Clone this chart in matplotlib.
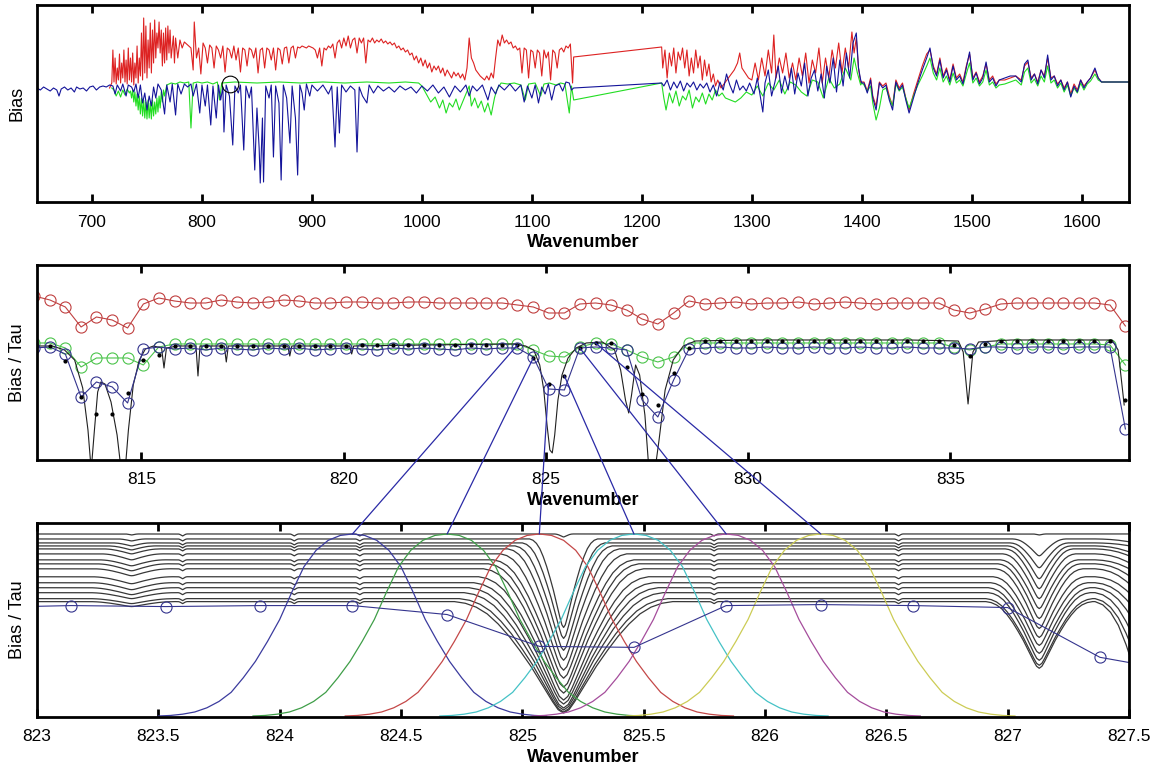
import numpy as np
import matplotlib.pyplot as plt
from matplotlib.patches import ConnectionPatch
from matplotlib.ticker import FormatStrFormatter

plt.rcParams['font.family'] = ['Liberation Sans', 'DejaVu Sans']

# ---------------- top panel: bias over the whole band ----------------
# (wavenumber, bias), arbitrary units, 0 = blue baseline
blue_main = [(650, 0), (653, -2), (656, 1), (659, -1), (662, -3), (665, 0), (668, -2), (670, -8), (672, -1),
             (675, 1), (678, -2), (681, 0), (684, -4), (686, 1), (689, -1), (692, 0), (695, -3), (698, 1),
             (701, 2), (704, -2), (707, 1), (710, 2), (713, 1), (716, 3),
             (719, 2), (721, -6), (723, 3), (726, -3), (728, 4), (731, -8), (733, 3), (736, 1), (738, -4),
             (740, 4), (742, -10), (744, 3), (746, -15), (748, -5), (750, -22), (752, -8), (754, -18),
             (756, 1), (758, -10), (760, 4), (763, -2), (766, -26), (768, 3), (771, -14), (773, 4),
             (776, -27), (778, 4), (781, -6), (784, 4), (787, 1), (790, 4), (792, -8), (795, 4), (798, -25),
             (800, 3), (803, -18), (805, 3), (808, -37), (810, 2), (813, -30), (815, 3), (817, -12), (819, 1),
             (820, -44), (822, 3), (825, -8), (828, -57), (830, 2), (833, -5), (835, 3), (838, -62), (840, 2),
             (843, -10), (845, 1), (848, -82), (850, -20), (852, -60), (853, -95), (855, -30), (856, -94),
             (858, 2), (861, -10), (863, 3), (865, -69), (867, 2), (870, -15), (872, -92), (874, 3),
             (877, -10), (880, -55), (882, 2), (885, -30), (887, -87), (889, 3), (891, -5), (893, -22),
             (895, 4), (898, -8), (900, 3), (905, -3), (910, 3), (915, -6), (918, 2), (921, -59), (923, 1),
             (925, -45), (927, 3), (931, -4), (935, 2), (939, -2), (941, -64), (943, 1), (946, -8), (950, -15),
             (952, 3), (956, -5), (960, 2), (965, -3), (970, 1), (975, -4), (980, 2), (985, -2), (990, 1),
             (995, -5), (1000, 2), (1005, -3), (1010, 3), (1015, -5), (1020, 1), (1025, -9), (1030, 2),
             (1035, -4), (1040, 3), (1043, -8), (1046, 2), (1050, -3), (1055, 3), (1060, -12), (1063, 1),
             (1067, -6), (1070, 3), (1075, -2), (1080, 4), (1085, -3), (1090, 3), (1093, -14), (1096, 2),
             (1100, -10), (1103, 3), (1106, -15), (1109, 1), (1112, -6), (1115, 4), (1118, -12), (1121, 2),
             (1125, 4), (1128, -3), (1131, 6), (1134, 5), (1136, -2), (1138, 0),
             (1218, 5), (1220, 2), (1223, 8), (1226, -2), (1229, 6), (1232, 0), (1235, 7), (1238, -3),
             (1241, 5), (1244, 1), (1247, 6), (1250, -2), (1253, 4), (1256, 0), (1259, 5), (1262, -4),
             (1265, 3), (1268, -8), (1271, 6), (1274, -2), (1277, 14), (1280, 3), (1283, -5), (1286, 8),
             (1289, -2), (1292, 2), (1295, -3), (1298, 5), (1302, -6), (1305, 10), (1308, -10), (1310, -24),
             (1312, 5), (1315, 18), (1318, -8), (1321, 6), (1324, 22), (1327, -5), (1330, 12), (1333, -2),
             (1336, 20), (1339, -6), (1342, 15), (1345, 2), (1348, 25), (1351, -8), (1354, 10), (1357, 18),
             (1360, -3), (1363, 14), (1366, -10), (1368, 22), (1371, 5), (1374, 30), (1377, -4), (1380, 28),
             (1383, 2), (1386, 35), (1389, 10), (1392, 45), (1395, 55), (1397, 20), (1399, 8)]

green_main = [(718, 0), (720, -2), (722, -8), (724, -3), (726, -9), (728, -2), (730, -7), (732, -1), (734, -5),
              (735, -3), (736, -10), (737, -2), (738, -14), (739, -4), (740, -18), (741, -6), (742, -22),
              (743, -8), (744, -26), (745, -10), (746, -28), (747, -12), (748, -30), (749, -14), (750, -31),
              (751, -12), (752, -30), (753, -15), (754, -31), (755, -12), (756, -28), (757, -14), (758, -26),
              (759, -10), (760, -24), (761, -8), (762, -20), (763, -4), (764, -14), (765, -2), (766, -8),
              (768, 3), (772, 5), (776, 4), (780, 6), (784, 5), (788, 6), (790, -40), (792, 5), (796, 6),
              (800, 5), (805, 6), (810, 4), (814, 6), (816, -12), (818, 5), (830, 6), (850, 5), (870, 6),
              (890, 5), (910, 6), (930, 5), (950, 6), (970, 5), (985, 6), (997, 5),
              (1000, 2), (1004, -6), (1008, -14), (1012, -9), (1016, -20), (1019, -12), (1022, -25),
              (1025, -15), (1028, -19), (1031, -11), (1034, -22), (1037, -14), (1040, -6), (1043, 2),
              (1045, -18), (1048, -10), (1051, -20), (1054, -13), (1057, -24), (1060, -15), (1063, -27),
              (1066, -10), (1068, -2), (1072, 5), (1078, 4), (1084, 5), (1090, 3), (1094, -12), (1097, 4),
              (1103, 5), (1108, -8), (1111, 4), (1116, 5), (1122, 3), (1126, 5), (1130, 4), (1134, -25),
              (1136, 2), (1138, -12),
              (1218, 5), (1220, -10), (1222, -22), (1225, -5), (1228, -15), (1231, -3), (1234, -18),
              (1237, -8), (1240, -12), (1243, -2), (1246, -20), (1249, -9), (1252, -14), (1255, -5),
              (1258, -16), (1261, -6), (1264, -12), (1267, -2), (1270, -8), (1273, -5), (1276, -10),
              (1285, -14), (1290, -10), (1295, -4), (1300, -7), (1305, 2), (1310, -8), (1315, 5), (1320, -2),
              (1325, 8), (1330, -6), (1335, 6), (1340, 3), (1345, -4), (1350, -8), (1355, 8), (1360, 6),
              (1365, -10), (1370, 10), (1375, 0), (1380, 4), (1385, 20), (1390, 8), (1393, 30), (1396, 15),
              (1399, 3)]

red_main = [(716, 0), (718, 5), (719, 38), (720, 6), (721, 30), (722, 4), (723, 20), (724, 8), (725, 34),
            (726, 5), (727, 25), (728, 10), (729, 38), (730, 6), (731, 28), (732, 4), (733, 40), (734, 8),
            (735, 30), (736, 6), (737, 35), (738, 3), (739, 25), (740, 10), (741, 42), (742, 5), (743, 30),
            (744, 12), (745, 55), (746, 8), (747, 70), (748, 15), (749, 62), (750, 10), (751, 48), (752, 20),
            (753, 65), (754, 15), (755, 58), (756, 25), (757, 68), (758, 30), (759, 55), (760, 40), (761, 66),
            (762, 35), (763, 58), (764, 22), (765, 55), (766, 25), (767, 60), (768, 28), (769, 62), (770, 35),
            (771, 58), (772, 30), (774, 52), (775, 25), (776, 50), (778, 30), (780, 48), (782, 40), (784, 46),
            (786, 44), (788, 42), (790, 40), (792, 18), (793, 66),
            (795, 30), (797, 40), (799, 14), (801, 45), (803, 40), (805, 25), (807, 43), (809, 40), (811, 20),
            (813, 42), (815, 38), (817, 30), (819, 42), (821, 16), (823, 40), (825, 38), (827, 30), (829, 42),
            (831, 28), (833, 40), (835, 16), (837, 40), (839, 38), (841, 22), (843, 40), (845, 38), (847, 30),
            (849, 40), (851, 15), (853, 38), (855, 40), (857, 20), (859, 40), (861, 38), (863, 28), (865, 40),
            (867, 18), (869, 40), (871, 38), (873, 24), (875, 40), (877, 41), (879, 25), (881, 40), (883, 42),
            (885, 30), (887, 41), (889, 40), (891, 42), (893, 41), (895, 40), (897, 42), (899, 41), (901, 40),
            (903, 38), (905, 30), (907, 40), (909, 22), (911, 40), (913, 38), (915, 42), (917, 40), (919, 44),
            (921, 30), (923, 45), (925, 48), (927, 40), (929, 50), (931, 42), (933, 52), (935, 40), (937, 48),
            (939, 50), (941, 35), (943, 50), (945, 45), (947, 50), (949, 25), (951, 48), (953, 46), (955, 50),
            (957, 45), (959, 48), (961, 46), (963, 49), (965, 45), (967, 47), (969, 44), (971, 46), (973, 43),
            (975, 45), (977, 40), (979, 42), (981, 38), (983, 40), (985, 36), (987, 38), (989, 33), (991, 35),
            (993, 28), (995, 32), (997, 25), (999, 30), (1001, 22), (1003, 28), (1005, 20), (1007, 25),
            (1009, 16), (1011, 22), (1013, 18), (1015, 22), (1017, 15), (1019, 20), (1021, 12), (1023, 18),
            (1025, 14), (1027, 10), (1029, 16), (1031, 12), (1033, 15), (1035, 10), (1037, 14), (1039, 8),
            (1041, 20), (1043, 50), (1045, 30), (1047, 25), (1049, 18), (1051, 15), (1053, 12), (1055, 10),
            (1057, 8), (1059, 12), (1061, 8), (1063, 15), (1065, 10), (1067, 30), (1069, 48), (1071, 42),
            (1073, 53), (1075, 45), (1077, 48), (1079, 44), (1081, 46), (1083, 40), (1085, 42), (1087, 38),
            (1089, 40), (1091, 15), (1093, 40), (1095, 38), (1097, 10), (1099, 38), (1101, 36), (1103, 20),
            (1105, 38), (1107, 35), (1109, 12), (1111, 38), (1113, 30), (1115, 36), (1117, 8), (1119, 38),
            (1121, 35), (1123, 20), (1125, 38), (1127, 40), (1129, 36), (1131, 42), (1133, 40), (1135, 44),
            (1137, 5), (1138, 31),
            (1218, 41), (1219, 20), (1221, 38), (1223, 10), (1225, 35), (1227, 22), (1229, 40), (1231, 15),
            (1233, 36), (1235, 28), (1237, 40), (1239, 20), (1241, 38), (1243, 12), (1245, 30), (1247, 15),
            (1249, 38), (1251, 20), (1253, 32), (1255, 8), (1257, 28), (1259, 12), (1261, 24), (1263, 6),
            (1265, 14), (1267, 2), (1269, 8), (1272, 0), (1276, 6), (1280, 12), (1284, 18), (1287, 25),
            (1289, 35), (1291, 20), (1294, 15), (1297, 10), (1300, 8), (1303, 25), (1306, 8), (1309, 30),
            (1312, 12), (1315, 38), (1318, 15), (1320, 53), (1322, 10), (1325, 30), (1328, 15), (1331, 35),
            (1334, 10), (1337, 25), (1340, 8), (1343, 30), (1346, 12), (1349, 35), (1352, 5), (1355, 28),
            (1358, 15), (1361, 40), (1364, 5), (1367, 30), (1370, 10), (1373, 38), (1376, 20), (1379, 45),
            (1382, 15), (1385, 40), (1388, 20), (1391, 56), (1393, 35), (1395, 50), (1397, 20), (1399, 5)]

# 1400-1650: the three runs nearly coincide
tail_x = [1400, 1402, 1405, 1408, 1410, 1413, 1416, 1419, 1422, 1425, 1428, 1431, 1434, 1437, 1440,
          1443, 1447, 1451, 1455, 1459, 1462, 1465, 1468, 1471, 1474, 1477, 1480, 1483, 1486, 1489,
          1492, 1495, 1498, 1501, 1504, 1507, 1510, 1513, 1516, 1519, 1522, 1525, 1530, 1535, 1540,
          1545, 1548, 1551, 1554, 1557, 1560, 1563, 1566, 1569, 1572, 1575, 1578, 1581, 1584, 1587,
          1590, 1593, 1596, 1599, 1602, 1605, 1608, 1612, 1615, 1618, 1650]
tail_blue = [5, 5, -5, 8, -10, -22, 5, 0, 3, -12, -22, 6, -2, 3, -12,
             -25, -10, 5, 18, 30, 40, 20, 12, 28, 10, 18, 6, 22, 8, 12,
             4, 20, 36, 8, 15, 4, 10, 26, 6, 10, 2, 8, 10, 12, 12,
             6, 24, 28, 8, 14, 4, 18, 10, 33, 8, 12, 2, 8, -2, 6,
             -9, 2, -4, 8, 0, 6, 10, 20, 10, 6, 6]
tail_green = [5, 3, -3, 2, -15, -32, -20, -2, 0, -10, -18, 4, -3, 1, -10,
              -20, -8, 3, 12, 22, 30, 15, 8, 20, 6, 12, 3, 15, 5, 8,
              2, 14, 25, 5, 10, 2, 6, 18, 3, 6, 0, 3, 4, 6, 8,
              3, 16, 20, 5, 9, 2, 12, 6, 22, 5, 8, 0, 5, -4, 3,
              -8, 0, -5, 5, -2, 4, 7, 14, 8, 6, 6]
tail_red = [6, 6, -3, 10, -8, -18, 6, 2, 5, -8, -18, 8, 0, 5, -10,
            -22, -6, 8, 22, 34, 38, 22, 14, 30, 12, 20, 8, 24, 10, 14,
            6, 22, 34, 10, 16, 6, 12, 24, 8, 12, 4, 8, 8, 10, 12,
            8, 22, 26, 10, 14, 6, 18, 12, 30, 10, 12, 4, 8, 0, 6,
            -6, 4, -2, 8, 2, 6, 10, 18, 10, 6, 6]

zoom_mark = (825.5, 4)

# ---------------- middle panel: channels 812-839 ----------------
chan_x = [812.35, 812.74, 813.12, 813.51, 813.89, 814.28, 814.66, 815.05, 815.43, 815.82,
          816.21, 816.59, 816.98, 817.36, 817.75, 818.13, 818.52, 818.90, 819.29, 819.67,
          820.06, 820.45, 820.83, 821.22, 821.60, 821.99, 822.37, 822.76, 823.14, 823.53,
          823.92, 824.30, 824.69, 825.07, 825.46, 825.84, 826.23, 826.61, 827.00, 827.38,
          827.77, 828.16, 828.54, 828.93, 829.31, 829.70, 830.08, 830.47, 830.85, 831.24,
          831.63, 832.01, 832.40, 832.78, 833.17, 833.55, 833.94, 834.32, 834.71, 835.09,
          835.48, 835.87, 836.25, 836.64, 837.02, 837.41, 837.79, 838.18, 838.56, 838.95,
          839.33]
red_circ = [164, 160, 153, 133, 143, 140, 132, 156, 162, 159, 157, 157, 160, 158, 157, 158, 160, 159,
            157, 157, 158, 158, 157, 157, 158, 158, 157, 157, 157, 157, 157, 155, 153, 147, 147, 156,
            157, 155, 150, 141, 136, 147, 159, 156, 157, 158, 156, 157, 157, 158, 156, 157, 158, 157,
            156, 157, 157, 157, 157, 150, 147, 151, 156, 157, 157, 157, 157, 157, 157, 155, 134]
green_circ = [117, 117, 112, 93, 102, 102, 102, 95, 113, 116, 116, 116, 116, 116, 116, 116, 116, 116,
              116, 116, 116, 116, 116, 116, 116, 116, 116, 116, 116, 116, 116, 116, 110, 104, 103, 113,
              117, 116, 110, 103, 98, 103, 117, 117, 117, 117, 117, 117, 117, 117, 117, 117, 117, 117,
              117, 117, 117, 117, 117, 113, 110, 113, 116, 116, 116, 116, 116, 116, 116, 115, 95]
blue_circ = [112, 113, 106, 63, 78, 73, 57, 111, 113, 111, 112, 110, 112, 111, 110, 112, 111, 112,
             110, 111, 112, 111, 110, 112, 111, 112, 111, 110, 112, 111, 112, 112, 103, 71, 70, 112,
             113, 112, 110, 60, 43, 80, 111, 112, 113, 112, 112, 113, 112, 112, 113, 112, 112, 113,
             112, 112, 113, 112, 112, 112, 111, 113, 113, 112, 113, 113, 112, 113, 113, 113, 31]
conv_dots = [114, 114, 99, 63, 46, 46, 67, 100, 105, 114, 114, 114, 114, 114, 114, 114, 114, 114,
             114, 114, 114, 115, 115, 115, 115, 115, 115, 115, 115, 115, 115, 115, 102, 76, 84, 112,
             117, 117, 93, 66, 55, 87, 112, 119, 119, 119, 119, 119, 119, 119, 119, 119, 119, 119,
             119, 119, 119, 119, 119, 115, 104, 116, 119, 119, 119, 119, 119, 119, 119, 119, 60]
# high resolution spectrum
hires = [(812.40, 114), (812.80, 114), (813.10, 110), (813.35, 100), (813.55, 72), (813.68, 30),
         (813.76, -10), (813.84, 30), (813.92, 68), (814.00, 78), (814.10, 76), (814.25, 58),
         (814.40, 25), (814.50, -10), (814.60, -10), (814.68, 30), (814.80, 75), (814.95, 100),
         (815.10, 111), (815.30, 114), (815.50, 112), (815.56, 92), (815.62, 112), (815.90, 114),
         (816.35, 114), (816.40, 84), (816.45, 114), (817.05, 114), (817.10, 98), (817.15, 114),
         (818.62, 114), (818.67, 104), (818.72, 114), (820.15, 114), (820.20, 106), (820.25, 114),
         (822.00, 115), (824.20, 116), (824.50, 114), (824.70, 110), (824.85, 95), (824.95, 70),
         (825.03, 35), (825.10, 10), (825.16, 7), (825.22, 25), (825.30, 60), (825.40, 85),
         (825.55, 102), (825.75, 112), (826.00, 117), (826.40, 118), (826.70, 110), (826.85, 90),
         (826.97, 60), (827.05, 47), (827.12, 65), (827.22, 95), (827.32, 85), (827.45, 45),
         (827.55, -10), (827.70, -10), (827.80, 20), (827.95, 70), (828.15, 100), (828.40, 114),
         (828.70, 119), (830.00, 120), (832.00, 120), (834.00, 120), (835.20, 119), (835.32, 108),
         (835.44, 56), (835.56, 108), (835.70, 118), (836.50, 120), (839.00, 120), (839.15, 110),
         (839.30, 55)]

# ---------------- bottom panel: transmittances and channel responses ----------------
tau_level = [184, 179, 175, 172, 169, 164, 158, 154, 149, 141, 135, 130, 125, 119, 116]
# line at 823.39
l0_depth = [1, 2, 3, 4, 5, 6, 6, 7, 7, 7, 7, 7, 6, 5, 5]
l0_w = [0.03, 0.06, 0.08, 0.10, 0.12, 0.13, 0.14, 0.15, 0.16, 0.17, 0.17, 0.18, 0.18, 0.18, 0.18]
# strong line at 825.17 (bottom of each curve)
l1_min = [181, 90, 79, 67, 57, 47, 39, 30, 24, 17, 13, 9, 7, 5, 4]
l1_w = [0.04, 0.14, 0.17, 0.20, 0.23, 0.26, 0.29, 0.31, 0.33, 0.35, 0.37, 0.39, 0.41, 0.43, 0.45]
# line at 827.13
l2_min = [183, 162, 150, 139, 129, 119, 109, 99, 89, 80, 72, 64, 57, 52, 49]
l2_w = [0.03, 0.11, 0.12, 0.13, 0.14, 0.15, 0.16, 0.17, 0.18, 0.19, 0.20, 0.21, 0.21, 0.22, 0.22]
# line past the right edge (827.68)
l3_depth = [0, 12, 12, 25, 29, 37, 37, 50, 62, 67, 83, 108, 146, 175, 217]
weak_lines = [823.60, 824.06, 824.33, 825.79, 826.55]

# absorption line shape (half profile)
prof_u = [0, 0.05, 0.1, 0.2, 0.3, 0.4, 0.5, 0.6, 0.7, 0.8, 0.9, 1.0]
prof_s = [1, 0.97, 0.9, 0.74, 0.58, 0.44, 0.31, 0.2, 0.11, 0.05, 0.015, 0]

# channel response functions
srf_off = [-0.8, -0.75, -0.7, -0.65, -0.6, -0.55, -0.5, -0.45, -0.4, -0.35, -0.3, -0.25, -0.2, -0.15,
           -0.1, -0.05, 0, 0.05, 0.1, 0.15, 0.2, 0.25, 0.3, 0.35, 0.4, 0.45, 0.5, 0.55, 0.6, 0.65,
           0.7, 0.75, 0.8]
srf_h = [0, 0.003, 0.01, 0.022, 0.045, 0.08, 0.13, 0.21, 0.3, 0.41, 0.53, 0.68, 0.82, 0.91, 0.965,
         0.992, 1, 0.992, 0.965, 0.91, 0.82, 0.68, 0.53, 0.41, 0.3, 0.21, 0.13, 0.08, 0.045, 0.022,
         0.01, 0.003, 0]
srf_chan = [31, 32, 33, 34, 35, 36]
srf_colors = ['#3b3b9e', '#3f9e48', '#c44848', '#45c2c6', '#a54d9c', '#cccc55']
srf_top, srf_floor = 184, 1

# ---------------- figure ----------------
fig = plt.figure(figsize=(11.6, 7.67), dpi=100)
ax1 = fig.add_axes([0.0319, 0.7366, 0.9414, 0.2569])
ax2 = fig.add_axes([0.0319, 0.4003, 0.9414, 0.2542])
ax3 = fig.add_axes([0.0319, 0.0652, 0.9414, 0.2529])


def style(ax, ylabel):
    for sp in ax.spines.values():
        sp.set_linewidth(2.0)
    ax.tick_params(axis='x', direction='in', length=6, width=2, top=True, bottom=True,
                   labelsize=12.5, pad=9)
    ax.set_yticks([])
    ax.set_xlabel('Wavenumber', fontsize=13, fontweight='bold', labelpad=3)
    ax.set_ylabel(ylabel, fontsize=13, labelpad=8)


# top
bx, by = zip(*blue_main)
gx, gy = zip(*green_main)
rx, ry = zip(*red_main)
ax1.plot(list(rx) + tail_x, list(ry) + tail_red, color='#dd2222', lw=0.8)
ax1.plot(list(gx) + tail_x, list(gy) + tail_green, color='#22dd22', lw=0.8)
ax1.plot(list(bx) + tail_x, list(by) + tail_blue, color='#14149a', lw=0.8)
ax1.plot(*zoom_mark, 'o', mfc='none', mec='k', ms=12, mew=0.8)
ax1.set_xlim(650, 1643)
ax1.set_ylim(-114, 83)
ax1.set_xticks([700, 800, 900, 1000, 1100, 1200, 1300, 1400, 1500, 1600])
style(ax1, 'Bias')

# middle
hx, hy = zip(*hires)
ax2.plot(chan_x, red_circ, '-o', color='#c04040', mfc='none', ms=8, mew=0.8, lw=0.8)
ax2.plot(chan_x, green_circ, '-o', color='#4cc44c', mfc='none', ms=8, mew=0.8, lw=0.8)
ax2.plot(hx, hy, color='#202020', lw=0.8)
ax2.plot(chan_x, blue_circ, '-o', color='#34348e', mfc='none', ms=8, mew=0.8, lw=0.8)
ax2.plot(chan_x, conv_dots, '.', color='k', ms=4)
ax2.set_xlim(812.42, 839.42)
ax2.set_ylim(0, 195)
ax2.set_xticks([815, 820, 825, 830, 835])
style(ax2, 'Bias / Tau')

# bottom
u_full = np.array([-u for u in prof_u[::-1]] + prof_u[1:])
s_full = np.array(prof_s[::-1] + prof_s[1:])
for i, lev in enumerate(tau_level):
    segs = [(823.39, l0_depth[i], l0_w[i]),
            (825.17, lev - l1_min[i], l1_w[i]),
            (827.13, lev - l2_min[i], l2_w[i]),
            (827.68, l3_depth[i], 0.32)]
    segs += [(c, 2, 0.02) for c in weak_lines]
    xs, ys = [822.8], [lev]
    for c, d, w in sorted(segs):
        xs.extend(c + w * u_full)
        ys.extend(lev - d * s_full)
    xs.append(828.3)
    ys.append(lev)
    ax3.plot(xs, ys, color='#383838', lw=0.9)

for k, col in zip(srf_chan, srf_colors):
    c = chan_x[k]
    ax3.plot([c + o for o in srf_off], [srf_floor + (srf_top - srf_floor) * h for h in srf_h],
             color=col, lw=0.9)
ax3.plot(chan_x, blue_circ, '-o', color='#34348e', mfc='none', ms=8, mew=0.8, lw=0.8)
ax3.set_xlim(823, 827.5)
ax3.set_ylim(0, 195)
ax3.set_xticks([823, 823.5, 824, 824.5, 825, 825.5, 826, 826.5, 827, 827.5])
ax3.xaxis.set_major_formatter(FormatStrFormatter('%g'))
style(ax3, 'Bias / Tau')

# lines linking the convolved channels to their response functions
for k in srf_chan:
    con = ConnectionPatch(xyA=(chan_x[k], conv_dots[k]), coordsA=ax2.transData,
                          xyB=(chan_x[k], srf_top), coordsB=ax3.transData,
                          color='#2a2aa6', lw=0.9)
    fig.add_artist(con)

fig.savefig('out.png', dpi=100)
